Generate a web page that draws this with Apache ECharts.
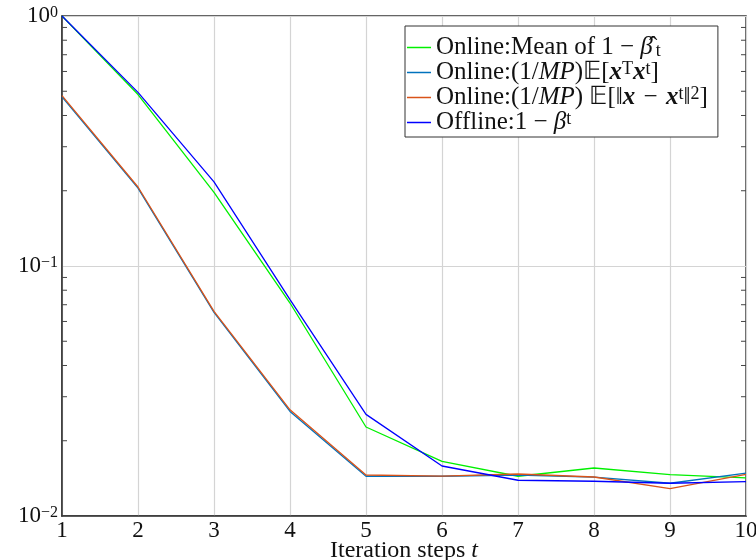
<!DOCTYPE html>
<html><head><meta charset="utf-8">
<script src="https://cdn.jsdelivr.net/npm/echarts@6/dist/echarts.min.js"></script>
<style>html,body{margin:0;padding:0;background:#fff}#c{width:756px;height:560px}</style>
</head><body><div id="c"></div>
<script>
// ---- data ----
const steps = [1, 2, 3, 4, 5, 6, 7, 8, 9, 10];
const onlineMeanBeta = [1.0, 0.485, 0.197, 0.0711, 0.0227, 0.01655, 0.01442, 0.01556, 0.01465, 0.0142];
const onlineCorr     = [0.475, 0.205, 0.0652, 0.0262, 0.01442, 0.01442, 0.01459, 0.0143, 0.01352, 0.01483];
const onlineMSE      = [0.48, 0.207, 0.0658, 0.0266, 0.01459, 0.01445, 0.01472, 0.01432, 0.01288, 0.01468];
const offlineBeta    = [1.0, 0.495, 0.217, 0.0734, 0.0255, 0.01585, 0.0139, 0.01377, 0.01352, 0.01373];
const yMinorTicks = [0.02,0.03,0.04,0.05,0.06,0.07,0.08,0.09,0.2,0.3,0.4,0.5,0.6,0.7,0.8,0.9];
const seriesNames = ['Online:Mean of 1 − β̂t', 'Online:(1/MP)E[xTxt]', 'Online:(1/MP) E[||x − xt||2]', 'Offline:1 − βt'];
const legendLabels = [
  'Online:Mean of 1 − {it|β}{hatc|ˆ}{sub|t}',
  'Online:(1/{it|MP})𝔼[{bx|x}{sup|T}{bx|x}{sup|t}]',
  'Online:(1/{it|MP}) 𝔼[‖{bx|x}\u2004−\u2004{bx|x}{sup|t}‖{sup|2}]',
  'Offline:1 − {it|β}{sup|t}'
];
const colors = ['#00f000', '#0072BD', '#D95319', '#0000ff'];

const FONT = 'Liberation Serif';
function makeRich(fs) {
  const s = Math.round(fs * 0.7);
  return {
    it: {fontFamily: FONT, fontSize: fs, fontStyle: 'italic', color: '#111'},
    hatc: {fontFamily: FONT, fontSize: fs, width: 1, align: 'right', verticalAlign: 'top', padding: [0, 2, 0, 0], color: '#111'},
    bx: {fontFamily: FONT, fontSize: fs, fontStyle: 'italic', fontWeight: 'bold', color: '#111'},
    sup: {fontFamily: FONT, fontSize: s, verticalAlign: 'top', color: '#111'},
    sub: {fontFamily: FONT, fontSize: s, verticalAlign: 'bottom', color: '#111'}
  };
}

const chart = echarts.init(document.getElementById('c'));
const dataSets = [onlineMeanBeta, onlineCorr, onlineMSE, offlineBeta];
const lineSeries = seriesNames.map((n, i) => ({
  name: n, type: 'line', symbol: 'none', smooth: false,
  data: steps.map((s, k) => [s, dataSets[i][k]]),
  lineStyle: {color: colors[i], width: 1.3},
  itemStyle: {color: colors[i]},
  z: 3
}));

chart.setOption({
  animation: false,
  backgroundColor: '#fff',
  textStyle: {fontFamily: FONT},
  grid: {left: 62, right: 10, top: 16, bottom: 44, containLabel: false, outerBoundsMode: 'none',
         show: true, borderColor: '#333', borderWidth: 1.5, backgroundColor: 'transparent'},
  legend: {
    data: seriesNames,
    orient: 'vertical', left: 405, top: 26,
    padding: [9, 10, 2, 2], itemGap: 0,
    borderColor: '#333', borderWidth: 1, backgroundColor: '#fff',
    itemWidth: 24, itemHeight: 1.5, icon: 'rect',
    formatter: name => legendLabels[seriesNames.indexOf(name)],
    textStyle: {fontFamily: FONT, fontSize: 25, lineHeight: 25, color: '#111', rich: makeRich(25)}
  },
  xAxis: {
    type: 'value', min: 1, max: 10, interval: 1,
    name: 'Iteration steps {it|t}', nameLocation: 'middle', nameGap: 23, nameMoveOverlap: false,
    nameTextStyle: {fontFamily: FONT, fontSize: 24, color: '#111', rich: makeRich(24)},
    axisLine: {lineStyle: {color: '#333', width: 1.5}},
    axisTick: {show: false},
    axisLabel: {fontFamily: FONT, fontSize: 23, color: '#111', margin: 3},
    splitLine: {show: true, lineStyle: {color: '#d4d4d4', width: 1.2}}
  },
  yAxis: {
    type: 'log', logBase: 10, min: 0.01, max: 1,
    axisLine: {lineStyle: {color: '#333', width: 1.5}},
    axisTick: {show: false},
    axisLabel: {
      fontFamily: FONT, fontSize: 23, color: '#111', margin: 4,
      formatter: v => '10{sup|' + String(Math.round(Math.log10(v))).replace('-', '−') + '}',
      rich: makeRich(23)
    },
    splitLine: {show: true, lineStyle: {color: '#d4d4d4', width: 1.2}}
  },
  series: lineSeries.concat([{
    type: 'custom', silent: true, z: 5,
    data: yMinorTicks.map(v => [steps[0], v]),
    renderItem: (params, api) => {
      const v = api.value(1);
      const l = api.coord([steps[0], v]);
      const r = api.coord([steps[steps.length - 1], v]);
      return {type: 'group', children: [
        {type: 'line', shape: {x1: l[0], y1: l[1], x2: l[0] + 5, y2: l[1]}, style: {stroke: '#444', lineWidth: 1}},
        {type: 'line', shape: {x1: r[0] - 5, y1: r[1], x2: r[0], y2: r[1]}, style: {stroke: '#444', lineWidth: 1}}
      ]};
    }
  }])
});
</script></body></html>
